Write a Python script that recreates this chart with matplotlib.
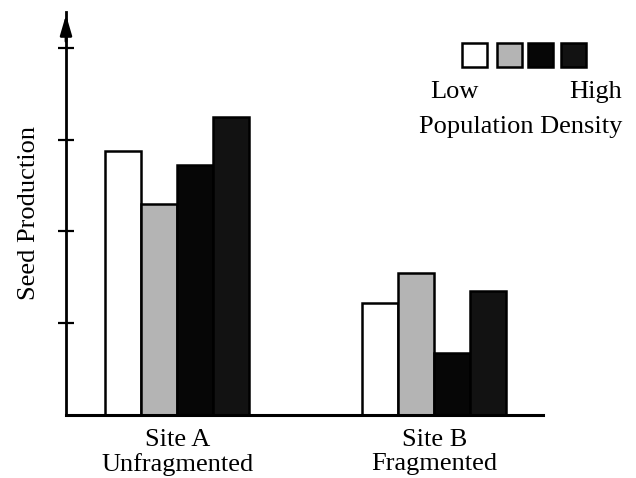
import matplotlib
matplotlib.use("Agg")
import matplotlib.pyplot as plt
import numpy as np

sites = ["Site A\nUnfragmented", "Site B\nFragmented"]
density_levels = ["Low", "Medium-low", "Medium-high", "High"]
site_a = [2.88, 2.30, 2.72, 3.25]
site_b = [1.22, 1.55, 0.68, 1.35]
colors = ["#ffffff", "#b4b4b4", "#060606", "#121212"]

plt.rcParams['font.family'] = ['Liberation Serif', 'DejaVu Serif']
FS = 19

fig = plt.figure(figsize=(6.36, 4.78), dpi=100)
ax = fig.add_axes([66/636, 1-415/478, (543-66)/636, (415-12)/478])

w = 0.14
centers = np.arange(len(sites))
values = np.array([site_a, site_b])
for i in range(len(density_levels)):
    ax.bar(centers + (i - 1.5) * w, values[:, i], width=w, color=colors[i],
           edgecolor="black", linewidth=1.8, zorder=2)

ax.set_xlim(-0.432, 1.422)
ax.set_ylim(0, 4.39)
for s in ["top", "right"]:
    ax.spines[s].set_visible(False)
ax.spines["left"].set_linewidth(2)
ax.spines["bottom"].set_linewidth(2.2)
ax.set_yticks([1, 2, 3, 4])
ax.set_yticklabels([])
ax.tick_params(axis="y", direction="inout", length=12, width=1.6)
ax.set_xticks([])
ax.annotate("", xy=(0, 1.0), xytext=(0, 0.92), xycoords="axes fraction",
            arrowprops=dict(arrowstyle="-|>,head_width=0.35,head_length=1.2",
                            color="black", lw=2))
ax.set_ylabel("Seed Production", fontsize=FS, labelpad=9)

for c, lab in zip(centers, sites):
    ax.text(c, -0.035, lab, ha="center", va="top", fontsize=FS,
            transform=ax.get_xaxis_transform(), linespacing=1.12)

# legend
sq_x = [462, 497, 528, 561]
for x0, col in zip(sq_x, colors):
    fig.patches.append(plt.Rectangle((x0/636, 1-67/478), 25/636, 24/478,
                                     transform=fig.transFigure, facecolor=col,
                                     edgecolor="black", linewidth=1.8))
fig.text(454/636, 1-92/478, "Low", ha="center", va="center", fontsize=FS)
fig.text(596/636, 1-92/478, "High", ha="center", va="center", fontsize=FS)
fig.text(521/636, 1-127/478, "Population Density", ha="center", va="center", fontsize=FS)

fig.savefig("out.png", dpi=100)
